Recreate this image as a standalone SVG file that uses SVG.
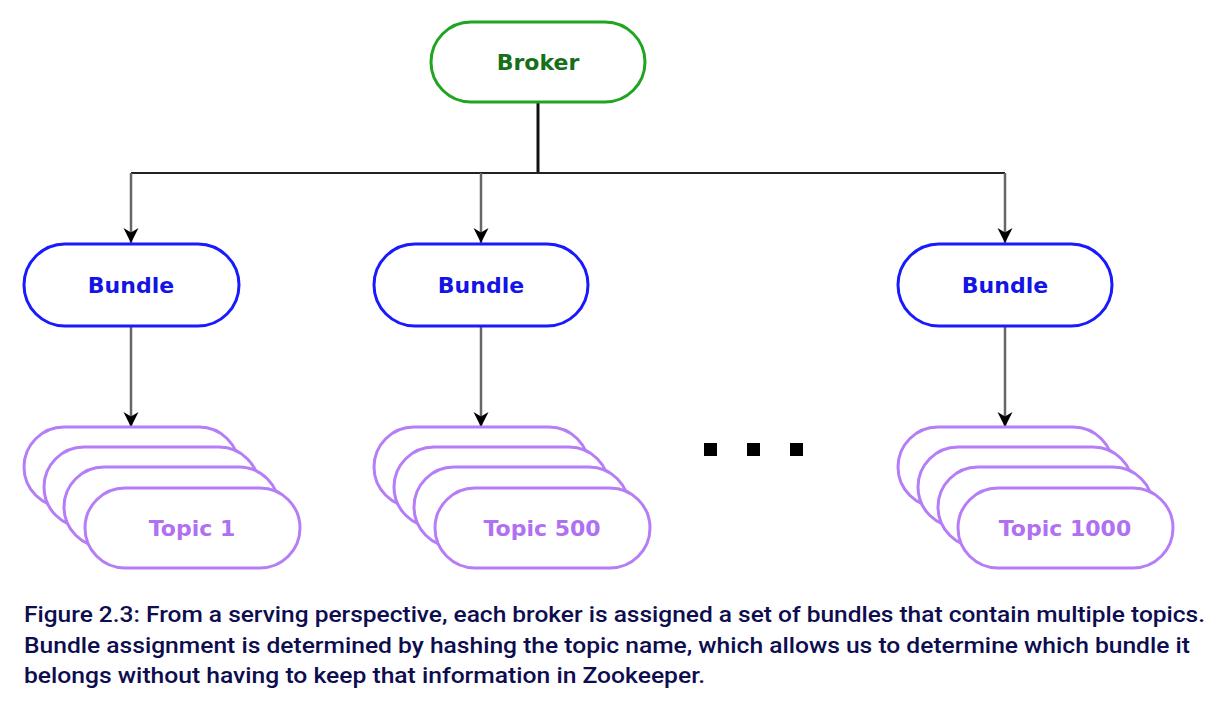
<svg xmlns="http://www.w3.org/2000/svg" width="1219" height="708" viewBox="0 0 1219 708">
<defs>
<marker id="ah" viewBox="0 0 18 18" refX="17" refY="9" markerWidth="18" markerHeight="18" markerUnits="userSpaceOnUse" orient="auto">
<path d="M2,1.5 L17,9 L2,16.5 L6.5,9 Z" fill="#000"/>
</marker>
</defs>
<style>
.broker{fill:#fff;stroke:#1fa51f;stroke-width:3}
.bundle{fill:#fff;stroke:#1a1aff;stroke-width:3}
.topic{fill:#fff;stroke:#b57df6;stroke-width:3}
.lbl{font-family:"DejaVu Sans",Verdana,sans-serif;font-weight:bold;font-size:22px;text-anchor:middle;dominant-baseline:central}
.tb{fill:#176f17}
.tu{fill:#1414e6}
.tt{fill:#b070f2}
.conn{fill:none;stroke:#666;stroke-width:2.5}
.cap{font-family:Roboto,"Liberation Sans",Arial,sans-serif;font-size:22px;font-weight:500;fill:#0d0d4f}
</style>
<rect width="1219" height="708" fill="#fff"/>
<g id="connectors">
<path d="M538,102 V173" stroke="#111" stroke-width="3" fill="none"/>
<path d="M131,173 H1005" stroke="#222" stroke-width="2" fill="none"/>
<path class="conn" d="M131,173 V243" marker-end="url(#ah)"/>
<path class="conn" d="M481,173 V243" marker-end="url(#ah)"/>
<path class="conn" d="M1005,173 V243" marker-end="url(#ah)"/>
<path class="conn" d="M131,327 V427" marker-end="url(#ah)"/>
<path class="conn" d="M481,327 V427" marker-end="url(#ah)"/>
<path class="conn" d="M1005,327 V427" marker-end="url(#ah)"/>
</g>
<g id="broker">
<rect class="broker" x="431" y="22" width="214" height="80" rx="40"/>
<text class="lbl tb" x="538" y="62">Broker</text>
</g>
<g id="bundle1">
<rect class="bundle" x="24" y="244" width="215" height="82" rx="41"/>
<text class="lbl tu" x="131" y="285">Bundle</text>
</g>
<g id="bundle2">
<rect class="bundle" x="374" y="244" width="214" height="82" rx="41"/>
<text class="lbl tu" x="481" y="285">Bundle</text>
</g>
<g id="bundle3">
<rect class="bundle" x="898" y="244" width="214" height="82" rx="41"/>
<text class="lbl tu" x="1005" y="285">Bundle</text>
</g>
<g id="topics1">
<rect class="topic" x="24" y="427" width="215" height="80" rx="40"/>
<rect class="topic" x="44" y="447" width="215" height="80" rx="40"/>
<rect class="topic" x="64" y="467" width="215" height="80" rx="40"/>
<rect class="topic" x="85" y="488" width="215" height="80" rx="40"/>
<text class="lbl tt" x="192" y="528">Topic 1</text>
</g>
<g id="topics2">
<rect class="topic" x="374" y="427" width="215" height="80" rx="40"/>
<rect class="topic" x="394" y="447" width="215" height="80" rx="40"/>
<rect class="topic" x="414" y="467" width="215" height="80" rx="40"/>
<rect class="topic" x="435" y="488" width="215" height="80" rx="40"/>
<text class="lbl tt" x="542" y="528">Topic 500</text>
</g>
<g id="topics3">
<rect class="topic" x="898" y="427" width="215" height="80" rx="40"/>
<rect class="topic" x="918" y="447" width="215" height="80" rx="40"/>
<rect class="topic" x="938" y="467" width="215" height="80" rx="40"/>
<rect class="topic" x="958" y="488" width="215" height="80" rx="40"/>
<text class="lbl tt" x="1065" y="528">Topic 1000</text>
</g>
<g id="ellipsis" fill="#000">
<rect x="704" y="443" width="13" height="13"/>
<rect x="747" y="443" width="13" height="13"/>
<rect x="790" y="443" width="13" height="13"/>
</g>
<g id="caption">
<text class="cap" x="24" y="622" textLength="1181" lengthAdjust="spacingAndGlyphs">Figure 2.3: From a serving perspective, each broker is assigned a set of bundles that contain multiple topics.</text>
<text class="cap" x="24" y="653" textLength="1166" lengthAdjust="spacingAndGlyphs">Bundle assignment is determined by hashing the topic name, which allows us to determine which bundle it</text>
<text class="cap" x="24" y="683" textLength="681" lengthAdjust="spacingAndGlyphs">belongs without having to keep that information in Zookeeper.</text>
</g>
</svg>
